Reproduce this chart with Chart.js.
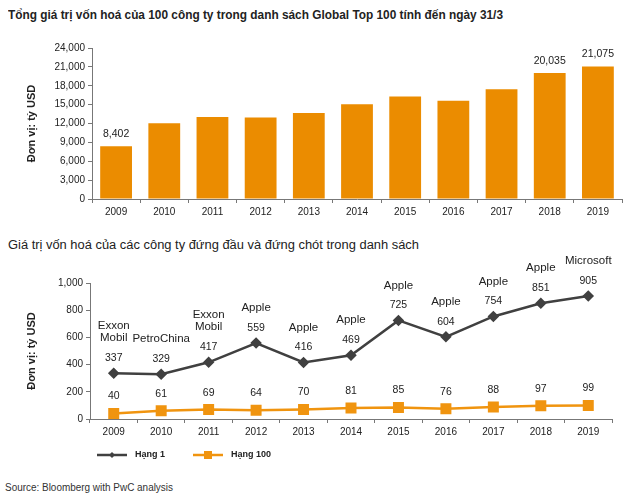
<!DOCTYPE html>
<html>
<head>
<meta charset="utf-8">
<script src="https://cdn.jsdelivr.net/npm/chart.js@4.4.1/dist/chart.umd.min.js"></script>
<style>
  html, body { margin: 0; padding: 0; background: #fff; }
  body { width: 630px; height: 501px; position: relative; overflow: hidden; font-family: "Liberation Sans", Arial, sans-serif; color: #222; }
  .txt { position: absolute; white-space: nowrap; transform-origin: 0 50%; }
  #title1 { left: 8px; top: 7px; font-size: 12.5px; font-weight: bold; line-height: 16px; }
  #title2 { left: 8px; top: 237px; font-size: 12.5px; line-height: 16px; }
  #source { left: 5px; top: 481px; font-size: 10px; line-height: 14px; color: #333; }
  #c1 { position: absolute; left: 0; top: 0; }
  #c2 { position: absolute; left: 0; top: 250px; }
</style>
</head>
<body>
<div class="txt" id="title1" data-w="495">Tổng giá trị vốn hoá của 100 công ty trong danh sách Global Top 100 tính đến ngày 31/3</div>
<canvas id="c1" width="630" height="230"></canvas>
<div class="txt" id="title2" data-w="411">Giá trị vốn hoá của các công ty đứng đầu và đứng chót trong danh sách</div>
<canvas id="c2" width="630" height="225"></canvas>
<div class="txt" id="source" data-w="168">Source: Bloomberg with PwC analysis</div>
<script>
// --- data ---
const years = ['2009', '2010', '2011', '2012', '2013', '2014', '2015', '2016', '2017', '2018', '2019'];
const totalCap = [8402, 12050, 13050, 12950, 13650, 15050, 16300, 15600, 17450, 20035, 21075];
const labelledYears = ['2009', '2018', '2019'];
const barTicks = [0, 3000, 6000, 9000, 12000, 15000, 18000, 21000, 24000];

const rank1 = [337, 329, 417, 559, 416, 469, 725, 604, 754, 851, 905];
const rank100 = [40, 61, 69, 64, 70, 81, 85, 76, 88, 97, 99];
const topCompany = ['Exxon\nMobil', 'PetroChina', 'Exxon\nMobil', 'Apple', 'Apple', 'Apple', 'Apple', 'Apple', 'Apple', 'Apple', 'Microsoft'];
const lineTicks = [0, 200, 400, 600, 800, 1000];

const FONT = '"Liberation Sans", Arial, sans-serif';
const ORANGE = '#EB8C00';
const ORANGE_LINE = '#F0940F';
const DARK = '#404040';
const AXIS = '#777';
const fmt = v => v.toLocaleString('en-US');

// squeeze titles to the widths seen in the picture
document.querySelectorAll('.txt').forEach(el => {
    const w = el.getBoundingClientRect().width;
    el.style.transform = 'scaleX(' + (parseFloat(el.dataset.w) / w) + ')';
});

Chart.defaults.font.family = FONT;
Chart.defaults.color = '#222';

function axisTitle() {
    return {
        display: true,
        text: 'Đơn vị: tỷ USD',
        font: { size: 11, weight: 'bold' },
        color: '#222',
        padding: { top: 25, bottom: 0 }
    };
}

// --- Chart 1: total market cap (bar) ---
const barLabels = {
    id: 'barLabels',
    afterDatasetsDraw(chart) {
        const ctx = chart.ctx;
        ctx.save();
        ctx.font = '10.5px ' + FONT;
        ctx.fillStyle = '#222';
        ctx.textAlign = 'center';
        ctx.textBaseline = 'middle';
        chart.getDatasetMeta(0).data.forEach((bar, i) => {
            if (labelledYears.includes(years[i])) {
                ctx.fillText(fmt(totalCap[i]), bar.x, bar.y - 12);
            }
        });
        ctx.restore();
    }
};

new Chart(document.getElementById('c1'), {
    type: 'bar',
    data: {
        labels: years,
        datasets: [{
            data: totalCap,
            backgroundColor: ORANGE,
            barPercentage: 0.66,
            categoryPercentage: 1
        }]
    },
    options: {
        responsive: false,
        animation: false,
        layout: { padding: { top: 48, right: 8, left: 0, bottom: 0 } },
        plugins: { legend: { display: false }, tooltip: { enabled: false } },
        scales: {
            x: {
                afterFit: s => { s.height = 31; },
                grid: { offset: true, drawOnChartArea: false, tickLength: 4, color: AXIS },
                border: { color: AXIS },
                ticks: { padding: 3, font: { size: 10 }, color: '#222' }
            },
            y: {
                min: 0,
                max: 24000,
                afterFit: s => { s.width = 92; },
                afterBuildTicks: s => { s.ticks = barTicks.map(v => ({ value: v })); },
                grid: { drawOnChartArea: false, tickLength: 4, color: AXIS },
                border: { color: AXIS },
                ticks: { padding: 3, font: { size: 10 }, color: '#222', callback: v => fmt(v) },
                title: axisTitle()
            }
        }
    },
    plugins: [barLabels]
});

// --- Chart 2: first and last place (line) ---
function legendIcon(color, style) {
    const c = document.createElement('canvas');
    c.width = 32; c.height = 12;
    const g = c.getContext('2d');
    g.strokeStyle = color; g.fillStyle = color; g.lineWidth = 2.5;
    g.beginPath(); g.moveTo(1, 6); g.lineTo(31, 6); g.stroke();
    g.beginPath();
    if (style === 'diamond') { g.moveTo(16, 3); g.lineTo(19, 6); g.lineTo(16, 9); g.lineTo(13, 6); g.closePath(); }
    else { g.rect(12, 2, 8, 8); }
    g.fill();
    return c;
}

const lineLabels = {
    id: 'lineLabels',
    afterDatasetsDraw(chart) {
        const ctx = chart.ctx;
        ctx.save();
        ctx.fillStyle = '#222';
        ctx.textAlign = 'center';
        ctx.textBaseline = 'middle';
        chart.getDatasetMeta(0).data.forEach((pt, i) => {
            ctx.font = '10.5px ' + FONT;
            ctx.fillText(fmt(rank1[i]), pt.x, pt.y - 15);
            ctx.font = '11.5px ' + FONT;
            const lines = topCompany[i].split('\n');
            lines.forEach((t, k) => {
                ctx.fillText(t, pt.x, pt.y - 35 - (lines.length - 1 - k) * 12.5);
            });
        });
        ctx.font = '10.5px ' + FONT;
        chart.getDatasetMeta(1).data.forEach((pt, i) => {
            ctx.fillText(fmt(rank100[i]), pt.x, pt.y - 17);
        });

        // legend under the axis
        const left = chart.chartArea.left;
        const y = 205;
        ctx.font = 'bold 9px ' + FONT;
        ctx.textAlign = 'left';
        chart.data.datasets.forEach((ds, k) => {
            const x0 = left + 7 + k * 96;
            ctx.drawImage(ds.legendIcon, x0 - 1, y - 6);
            ctx.fillText(ds.label, x0 + 38, y);
        });
        ctx.restore();
    }
};

new Chart(document.getElementById('c2'), {
    type: 'line',
    data: {
        labels: years,
        datasets: [{
            label: 'Hạng 1',
            data: rank1,
            borderColor: DARK,
            backgroundColor: DARK,
            borderWidth: 2.5,
            pointStyle: 'rectRot',
            pointRadius: 4,
            tension: 0,
            legendIcon: legendIcon(DARK, 'diamond')
        }, {
            label: 'Hạng 100',
            data: rank100,
            borderColor: ORANGE_LINE,
            backgroundColor: ORANGE_LINE,
            borderWidth: 2.5,
            pointStyle: 'rect',
            pointRadius: 6,
            tension: 0,
            legendIcon: legendIcon(ORANGE_LINE, 'square')
        }]
    },
    options: {
        responsive: false,
        animation: false,
        layout: { padding: { top: 33, right: 18, left: 0, bottom: 0 } },
        plugins: { legend: { display: false }, tooltip: { enabled: false } },
        scales: {
            x: {
                offset: true,
                afterFit: s => { s.height = 56; },
                grid: { offset: true, drawOnChartArea: false, tickLength: 4, color: AXIS },
                border: { color: AXIS },
                ticks: { padding: 3, font: { size: 10 }, color: '#222' }
            },
            y: {
                min: 0,
                max: 1000,
                afterFit: s => { s.width = 90; },
                afterBuildTicks: s => { s.ticks = lineTicks.map(v => ({ value: v })); },
                grid: { drawOnChartArea: false, tickLength: 4, color: AXIS },
                border: { color: AXIS },
                ticks: { padding: 3, font: { size: 10 }, color: '#222', callback: v => fmt(v) },
                title: axisTitle()
            }
        }
    },
    plugins: [lineLabels]
});
</script>
</body>
</html>
